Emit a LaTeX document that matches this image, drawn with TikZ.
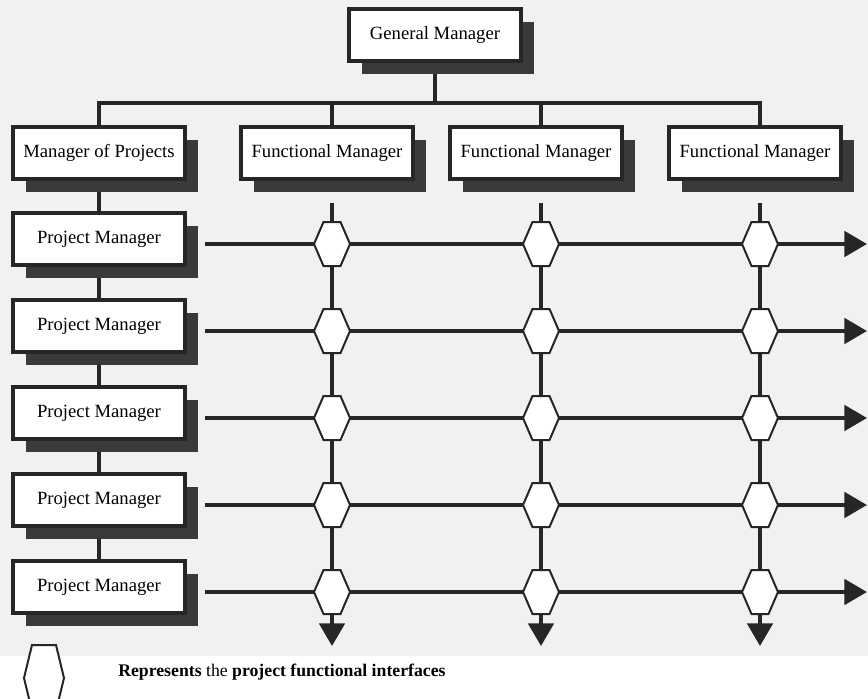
\documentclass[tikz,border=0pt]{standalone}
\usepackage{fontspec}
\setmainfont{Liberation Serif}
\usetikzlibrary{arrows.meta,shadows}
\pgfdeclarelayer{paperlayer}
\pgfdeclarelayer{bg}
\pgfsetlayers{paperlayer,bg,main}

\definecolor{ink}{HTML}{262626}
\definecolor{shade}{HTML}{3A3A3A}
\definecolor{paper}{HTML}{F1F1F1}

\begin{document}
\begin{tikzpicture}[x=0.75pt,y=-0.75pt,
  box/.style={draw=ink, line width=3.2pt, fill=white, inner sep=0pt,
    minimum width=129pt, minimum height=39pt,
    font=\fontsize{14}{16}\selectfont,
    drop shadow={shadow xshift=9.75pt, shadow yshift=-9.75pt, fill=shade, opacity=1}},
  conn/.style={draw=ink, line width=3pt},
  flow/.style={conn, -{Triangle[length=17pt,width=19pt]}},
  iface/.pic={\draw[draw=ink, line width=1.5pt, fill=white]
    (-18,0) -- (-8.5,-22) -- (8.5,-22) -- (18,0) -- (8.5,22) -- (-8.5,22) -- cycle;},
  keyhex/.pic={\draw[draw=ink, line width=1.5pt, fill=white]
    (-20,0) -- (-12,-33) -- (12,-33) -- (20,0) -- (12,33) -- (-12,33) -- cycle;}]

\clip (0,0) rectangle (868,699);
\begin{pgfonlayer}{paperlayer}
  \fill[white] (0,0) rectangle (868,699);
  \fill[paper] (0,0) rectangle (868,656);
\end{pgfonlayer}

% management boxes
\node[box] (gm)  at (435,35)  {General Manager};
\node[box] (mop) at (99,153)  {Manager of Projects};
\node[box] (fm1) at (327,153) {Functional Manager};
\node[box] (fm2) at (536,153) {Functional Manager};
\node[box] (fm3) at (755,153) {Functional Manager};

\foreach \i/\r in {1/244,2/331,3/418,4/505,5/592}
  \node[box] (pm\i) at (99,\r-5) {Project Manager};

% functional columns: top and bottom ends
\coordinate (col1) at (332,203); \coordinate (bot1) at (332,646);
\coordinate (col2) at (541,203); \coordinate (bot2) at (541,646);
\coordinate (col3) at (760,203); \coordinate (bot3) at (760,646);
\coordinate (busL) at (99,103);
\coordinate (busR) at (760,103);

% reporting lines behind the boxes
\begin{pgfonlayer}{bg}
  \draw[conn] (gm.south) -- (gm.south |- busL);
  \draw[conn] (mop.north) -- (busL) -- (busR) -- (busR |- fm3.north);
  \draw[conn] (col1 |- busL) -- (col1 |- fm1.north);
  \draw[conn] (col2 |- busL) -- (col2 |- fm2.north);
  \draw[conn] (mop.south) -- (pm5.north);
\end{pgfonlayer}

% functional flows downward
\foreach \c in {1,2,3}
  \draw[flow] (col\c) -- (bot\c);

% project flows across
\foreach \i/\r in {1/244,2/331,3/418,4/505,5/592} {
  \coordinate (hs\i) at (205,\r);
  \coordinate (he\i) at (867,\r);
  \draw[flow] (hs\i) -- (he\i);
  \foreach \x in {332,541,760}
    \pic at (\x,\r) {iface};
}

% key
\pic at (44,678) {keyhex};
\node[anchor=west, inner sep=0pt, font=\fontsize{13.3}{15}\selectfont] (legend) at (118,672)
  {\textbf{Represents} the \textbf{project functional interfaces}};
\end{tikzpicture}
\end{document}
